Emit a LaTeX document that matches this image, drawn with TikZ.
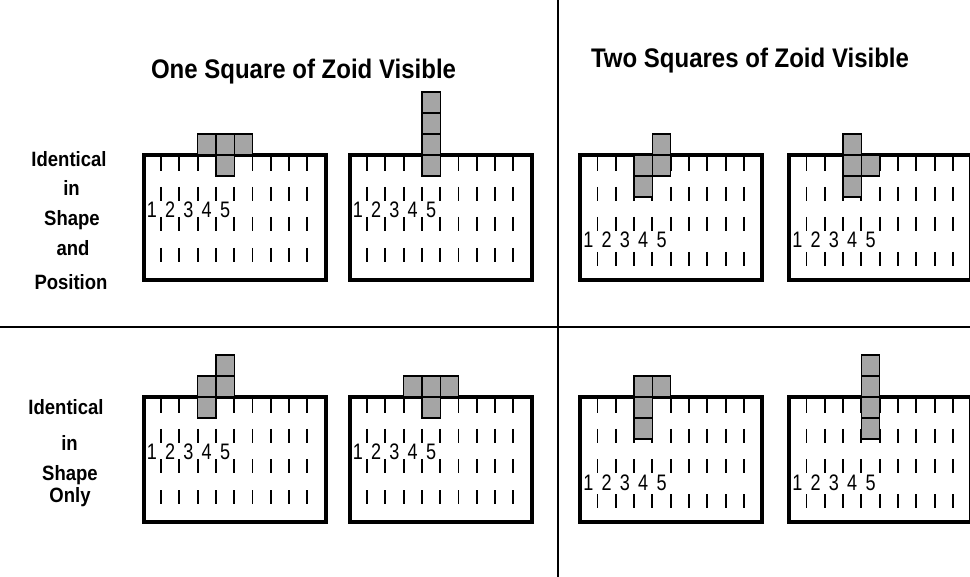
\documentclass[tikz,border=0pt]{standalone}
\usepackage{fontspec}
\setmainfont{Liberation Sans}
\definecolor{zoidgray}{RGB}{165,165,165}
\newcommand\drawboard[5]{%
  % #1 x0, #2 y0, #3 digit baseline offset, #4 last tick row start, #5 name
  \foreach \j in {0,...,8} {
    \foreach \r in {4,34,64,#4} {
      \draw[tickmark] ({#1+19.5+18.3*\j},{#2+\r}) -- ++(0,14);
    }
  }
  \draw[boardframe] ({#1+2},{#2+2}) rectangle ({#1+184},{#2+127});
  \foreach \k in {1,...,5} {
    \node[digit] (#5-\k) at ({#1+19.5+18.3*(\k-1.5)},{#2+#3}) {\scalebox{0.95}[1.18]{\k}};
  }
}
\newcommand\zsq[4]{%
  \draw[zsquare] ({#1+1.2+18.3*(#3-1)},{#2+2+21*(#4)}) rectangle ++(18.3,21);
}
\begin{document}
\begin{tikzpicture}[x=1pt,y=-1pt,
  boardframe/.style={line width=4pt},
  tickmark/.style={line width=1.9pt},
  zsquare/.style={draw=black,line width=1.4pt,fill=zoidgray},
  divider/.style={line width=2.4pt},
  titletext/.style={font=\fontsize{24}{24}\selectfont\bfseries,anchor=base,inner sep=0pt},
  rowlab/.style={font=\fontsize{18.5}{18.5}\selectfont\bfseries,anchor=base,inner sep=0pt},
  digit/.style={font=\fontsize{19}{19}\selectfont,anchor=base,inner sep=0pt}]
\useasboundingbox (0,0) rectangle (970,577);
\clip (0,0) rectangle (970,577);
\fill[white] (0,0) rectangle (970,577);

% dividers
\coordinate (vtop) at (558,0);
\coordinate (vbot) at (558,577);
\coordinate (hleft) at (0,327);
\coordinate (hright) at (970,327);
\draw[divider] (vtop) -- (vbot);
\draw[divider] (hleft) -- (hright);

% titles
\node[titletext] (t1) at (303.5,78.5) {\scalebox{1}[1.12]{One Square of Zoid Visible}};
\node[titletext] (t2) at (750,68) {\scalebox{1}[1.12]{Two Squares of Zoid Visible}};

% row labels
\node[rowlab] (a1) at (69,166.5) {\scalebox{1}[1.12]{Identical}};
\node[rowlab] (a2) at (71.5,195.5) {\scalebox{1}[1.12]{in}};
\node[rowlab] (a3) at (72,226) {\scalebox{1}[1.12]{Shape}};
\node[rowlab] (a4) at (73,255.5) {\scalebox{1}[1.12]{and}};
\node[rowlab] (a5) at (71,290) {\scalebox{1}[1.12]{Position}};
\node[rowlab] (b1) at (66,415) {\scalebox{1}[1.12]{Identical}};
\node[rowlab] (b2) at (69.5,450) {\scalebox{1}[1.12]{in}};
\node[rowlab] (b3) at (70,480) {\scalebox{1}[1.12]{Shape}};
\node[rowlab] (b4) at (70,502) {\scalebox{1}[1.12]{Only}};

% boards
\drawboard{141.5}{153}{65}{95}{p1}
\zsq{141.5}{153}{4}{-1}\zsq{141.5}{153}{5}{-1}\zsq{141.5}{153}{6}{-1}\zsq{141.5}{153}{5}{0}

\drawboard{347.5}{153}{65}{95}{p2}
\zsq{347.5}{153}{5}{-3}\zsq{347.5}{153}{5}{-2}\zsq{347.5}{153}{5}{-1}\zsq{347.5}{153}{5}{0}

\drawboard{578}{153}{95}{99}{p3}
\zsq{578}{153}{5}{-1}\zsq{578}{153}{4}{0}\zsq{578}{153}{5}{0}\zsq{578}{153}{4}{1}

\drawboard{787}{153}{95}{99}{p4}
\zsq{787}{153}{4}{-1}\zsq{787}{153}{4}{0}\zsq{787}{153}{5}{0}\zsq{787}{153}{4}{1}

\drawboard{141.5}{395}{65}{95}{p5}
\zsq{141.5}{395}{5}{-2}\zsq{141.5}{395}{4}{-1}\zsq{141.5}{395}{5}{-1}\zsq{141.5}{395}{4}{0}

\drawboard{347.5}{395}{65}{95}{p6}
\zsq{347.5}{395}{4}{-1}\zsq{347.5}{395}{5}{-1}\zsq{347.5}{395}{6}{-1}\zsq{347.5}{395}{5}{0}

\drawboard{578}{395}{95}{99}{p7}
\zsq{578}{395}{4}{-1}\zsq{578}{395}{5}{-1}\zsq{578}{395}{4}{0}\zsq{578}{395}{4}{1}

\drawboard{787}{395}{95}{99}{p8}
\zsq{787}{395}{5}{-2}\zsq{787}{395}{5}{-1}\zsq{787}{395}{5}{0}\zsq{787}{395}{5}{1}
\end{tikzpicture}
\end{document}
